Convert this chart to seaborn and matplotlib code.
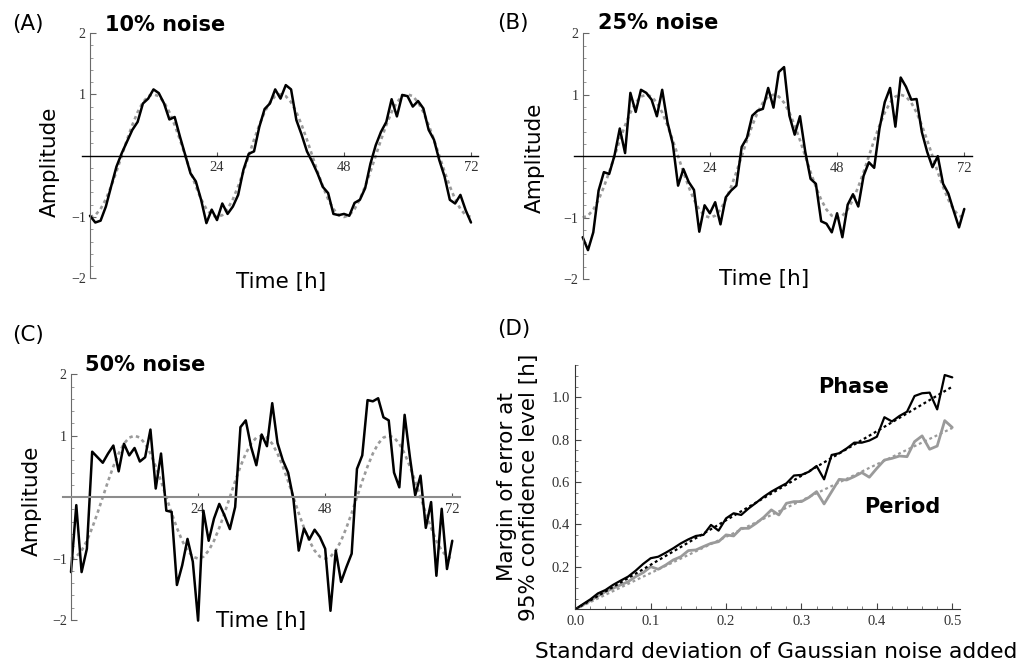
import matplotlib
matplotlib.use("Agg")
import matplotlib.pyplot as plt
import seaborn as sns
from matplotlib.ticker import MultipleLocator

# ---------------- data ----------------
hours = list(range(73))

model_curve = [
    -1.00, -0.97, -0.87, -0.71, -0.50, -0.26, 0.00, 0.26, 0.50, 0.71, 0.87, 0.97,
    1.00, 0.97, 0.87, 0.71, 0.50, 0.26, 0.00, -0.26, -0.50, -0.71, -0.87, -0.97,
    -1.00, -0.97, -0.87, -0.71, -0.50, -0.26, 0.00, 0.26, 0.50, 0.71, 0.87, 0.97,
    1.00, 0.97, 0.87, 0.71, 0.50, 0.26, 0.00, -0.26, -0.50, -0.71, -0.87, -0.97,
    -1.00, -0.97, -0.87, -0.71, -0.50, -0.26, 0.00, 0.26, 0.50, 0.71, 0.87, 0.97,
    1.00, 0.97, 0.87, 0.71, 0.50, 0.26, 0.00, -0.26, -0.50, -0.71, -0.87, -0.97,
    -1.00,
]

noise10 = [
    -0.98, -1.09, -1.06, -0.83, -0.50, -0.18, 0.04, 0.23, 0.42, 0.55,
    0.85, 0.93, 1.08, 1.02, 0.85, 0.59, 0.63, 0.31, 0.01, -0.29,
    -0.42, -0.72, -1.10, -0.88, -1.05, -0.78, -0.95, -0.83, -0.64, -0.23,
    0.03, 0.07, 0.47, 0.76, 0.85, 1.08, 0.93, 1.15, 1.08, 0.58,
    0.34, 0.07, -0.10, -0.29, -0.51, -0.61, -0.95, -0.97, -0.95, -0.98,
    -0.77, -0.72, -0.53, -0.13, 0.17, 0.39, 0.55, 0.92, 0.64, 0.99,
    0.97, 0.80, 0.89, 0.77, 0.42, 0.26, -0.07, -0.34, -0.72, -0.78,
    -0.64, -0.89, -1.09,
]

noise25 = [
    -1.32, -1.53, -1.24, -0.56, -0.26, -0.29, 0.01, 0.45, 0.05, 1.03,
    0.72, 1.08, 1.03, 0.92, 0.65, 1.08, 0.55, 0.20, -0.48, -0.21,
    -0.42, -0.55, -1.23, -0.80, -0.93, -0.75, -1.11, -0.67, -0.56, -0.48,
    0.15, 0.30, 0.66, 0.74, 0.77, 1.11, 0.79, 1.37, 1.45, 0.66,
    0.35, 0.65, 0.07, -0.37, -0.45, -1.06, -1.10, -1.24, -0.93, -1.32,
    -0.79, -0.62, -0.82, -0.32, -0.10, -0.19, 0.45, 0.88, 1.11, 0.48,
    1.28, 1.13, 0.92, 0.93, 0.39, 0.07, -0.18, 0.00, -0.45, -0.61,
    -0.89, -1.16, -0.86,
]

noise50 = [
    -1.22, -0.13, -1.22, -0.84, 0.74, 0.65, 0.56, 0.71, 0.84, 0.42,
    0.87, 0.68, 0.80, 0.58, 0.65, 1.10, 0.14, 0.71, -0.22, -0.24,
    -1.43, -1.11, -0.68, -1.05, -2.01, -0.22, -0.71, -0.35, -0.11, -0.30,
    -0.52, -0.16, 1.14, 1.25, 0.82, 0.52, 1.02, 0.83, 1.53, 0.88,
    0.60, 0.40, -0.03, -0.87, -0.51, -0.69, -0.53, -0.65, -0.84, -1.85,
    -0.87, -1.38, -1.14, -0.92, 0.46, 0.68, 1.58, 1.56, 1.61, 1.30,
    1.25, 0.40, 0.16, 1.34, 0.65, 0.03, 0.35, -0.50, -0.08, -1.28,
    -0.19, -1.17, -0.71,
]

sd_levels = [
    0.00, 0.01, 0.02, 0.03, 0.04, 0.05, 0.06, 0.07, 0.08, 0.09,
    0.10, 0.11, 0.12, 0.13, 0.14, 0.15, 0.16, 0.17, 0.18, 0.19,
    0.20, 0.21, 0.22, 0.23, 0.24, 0.25, 0.26, 0.27, 0.28, 0.29,
    0.30, 0.31, 0.32, 0.33, 0.34, 0.35, 0.36, 0.37, 0.38, 0.39,
    0.40, 0.41, 0.42, 0.43, 0.44, 0.45, 0.46, 0.47, 0.48, 0.49,
    0.50,
]

phase_moe = [
    0.000, 0.024, 0.047, 0.075, 0.091, 0.115, 0.135, 0.154, 0.182, 0.214,
    0.241, 0.248, 0.267, 0.288, 0.311, 0.330, 0.346, 0.351, 0.398, 0.371,
    0.429, 0.453, 0.445, 0.476, 0.503, 0.531, 0.555, 0.575, 0.594, 0.631,
    0.634, 0.649, 0.676, 0.613, 0.728, 0.736, 0.759, 0.786, 0.786, 0.796,
    0.814, 0.906, 0.886, 0.912, 0.932, 1.006, 1.019, 1.022, 0.943, 1.105,
    1.094,
]

period_moe = [
    0.000, 0.020, 0.041, 0.063, 0.083, 0.099, 0.115, 0.130, 0.154, 0.173,
    0.201, 0.189, 0.209, 0.233, 0.248, 0.277, 0.280, 0.296, 0.311, 0.319,
    0.351, 0.346, 0.382, 0.382, 0.406, 0.434, 0.469, 0.445, 0.500, 0.508,
    0.508, 0.528, 0.555, 0.497, 0.555, 0.613, 0.610, 0.626, 0.645, 0.623,
    0.665, 0.704, 0.712, 0.723, 0.720, 0.791, 0.818, 0.755, 0.770, 0.890,
    0.858,
]

fit_sd = [0.0, 0.5]
phase_fit = [0.0, 1.05]
period_fit = [0.0, 0.855]

time_ticks = [24, 48, 72]
amp_ticks = [-2, -1, 1, 2]
amp_tick_labels = ["\u22122", "\u22121", "1", "2"]
sd_ticks = [0.0, 0.1, 0.2, 0.3, 0.4, 0.5]
sd_tick_labels = ["0.0", "0.1", "0.2", "0.3", "0.4", "0.5"]
moe_ticks = [0.2, 0.4, 0.6, 0.8, 1.0]
moe_tick_labels = ["0.2", "0.4", "0.6", "0.8", "1.0"]

# ---------------- style ----------------
sns.set_theme(style="white")
plt.rcParams["font.family"] = ["DejaVu Sans"]
plt.rcParams["text.color"] = "black"
plt.rcParams["axes.labelcolor"] = "black"

W, H = 1022, 666
fig = plt.figure(figsize=(W / 100, H / 100), dpi=100)


def px(x, y):
    return x / W, 1 - y / H


SERIF = "Liberation Serif"
LBL = 15.5
DOT = (0, (1.3, 1.3))


def wave_axes(rect, noisy, axis_color, axis_lw):
    ax = fig.add_axes(rect)
    ax.set_facecolor("white")
    sns.lineplot(x=hours, y=model_curve, ax=ax, color="#9a9a9a", lw=1.9,
                 linestyle=DOT)
    sns.lineplot(x=hours, y=noisy, ax=ax, color="black", lw=1.8)
    ax.set_xlim(-1.6, 73.4)
    ax.set_ylim(-2.05, 2.05)
    for s in ["top", "right"]:
        ax.spines[s].set_visible(False)
    ax.spines["left"].set_position(("data", 0))
    ax.spines["left"].set_bounds(-2, 2)
    ax.spines["left"].set_color("#6a6a6a")
    ax.spines["left"].set_linewidth(0.8)
    ax.spines["bottom"].set_position(("data", 0))
    ax.spines["bottom"].set_color(axis_color)
    ax.spines["bottom"].set_linewidth(axis_lw)
    ax.set_xticks(time_ticks, labels=[str(t) for t in time_ticks],
                  fontfamily=SERIF, fontsize=10.5, color="#333333")
    ax.set_yticks(amp_ticks, labels=amp_tick_labels,
                  fontfamily=SERIF, fontsize=10, color="#333333")
    ax.yaxis.set_minor_locator(MultipleLocator(0.2))
    ax.tick_params(axis="x", which="major", direction="in", length=3,
                   width=0.8, color="#555555", pad=4, bottom=True)
    ax.tick_params(axis="y", which="major", direction="in", length=4,
                   width=0.8, color="#666666", pad=3, left=True)
    ax.tick_params(axis="y", which="minor", direction="in", length=2.5,
                   width=0.6, color="#888888", left=True)
    ax.set_xlabel("")
    ax.set_ylabel("")
    return ax


# Panel A
wave_axes([0.07977, 0.57748, 0.38833, 0.37763], noise10, "black", 1.0)
# Panel B
wave_axes([0.56184, 0.57647, 0.38894, 0.37814], noise25, "black", 1.0)
# Panel C
wave_axes([0.06118, 0.06446, 0.38862, 0.37814], noise50, "#8c8c8c", 1.5)

# Panel D
axd = fig.add_axes([0.56292, 0.08514, 0.37622, 0.36607])
axd.set_facecolor("white")
sns.lineplot(x=sd_levels, y=period_moe, ax=axd, color="#9a9a9a", lw=2.0)
sns.lineplot(x=sd_levels, y=phase_moe, ax=axd, color="black", lw=1.6)
sns.lineplot(x=fit_sd, y=period_fit, ax=axd, color="#9a9a9a", lw=1.6,
             linestyle=DOT)
sns.lineplot(x=fit_sd, y=phase_fit, ax=axd, color="black", lw=1.6,
             linestyle=DOT)
axd.set_xlim(0, 0.51)
axd.set_ylim(0, 1.15)
for s in ["top", "right"]:
    axd.spines[s].set_visible(False)
for s in ["left", "bottom"]:
    axd.spines[s].set_color("#333333")
    axd.spines[s].set_linewidth(0.8)
axd.set_xticks(sd_ticks, labels=sd_tick_labels, fontfamily=SERIF,
               fontsize=10.5, color="#333333")
axd.set_yticks(moe_ticks, labels=moe_tick_labels, fontfamily=SERIF,
               fontsize=10.5, color="#333333")
axd.xaxis.set_minor_locator(MultipleLocator(0.02))
axd.yaxis.set_minor_locator(MultipleLocator(0.05))
axd.tick_params(axis="both", which="major", direction="in", length=4,
                width=0.8, color="#444444", pad=4, left=True, bottom=True)
axd.tick_params(axis="both", which="minor", direction="in", length=2.5,
                width=0.6, color="#666666", left=True, bottom=True)
axd.set_xlabel("")
axd.set_ylabel("")

# ---------------- texts ----------------
for lab, (x, y) in {"(A)": (12, 24), "(B)": (497, 23),
                    "(C)": (12, 335), "(D)": (497, 329)}.items():
    fig.text(*px(x, y), lab, ha="left", va="center", fontsize=15.5,
             color="black")

for title, (x, y) in {"10% noise": (105, 25), "25% noise": (598, 23),
                      "50% noise": (85, 365)}.items():
    fig.text(*px(x, y), title, ha="left", va="center", fontsize=15,
             fontweight="bold", color="black")

for (x, y) in [(281, 282), (764, 279), (261, 621)]:
    fig.text(*px(x, y), "Time [h]", ha="center", va="center", fontsize=LBL,
             color="black")

for (x, y) in [(50, 162), (535, 158), (32, 501)]:
    fig.text(*px(x, y), "Amplitude", ha="center", va="center", fontsize=LBL,
             rotation=90, color="black")

fig.text(*px(518, 487), "Margin of error at\n95% confidence level [h]",
         ha="center", va="center", fontsize=LBL, rotation=90,
         multialignment="center", linespacing=1.15, color="black")
fig.text(*px(776, 652), "Standard deviation of Gaussian noise added",
         ha="center", va="center", fontsize=15.7, color="black")

fig.text(*px(854, 387), "Phase", ha="center", va="center", fontsize=15,
         fontweight="bold", color="black")
fig.text(*px(902, 507), "Period", ha="center", va="center", fontsize=15,
         fontweight="bold", color="black")

fig.savefig("out.png", dpi=100, facecolor="white")
